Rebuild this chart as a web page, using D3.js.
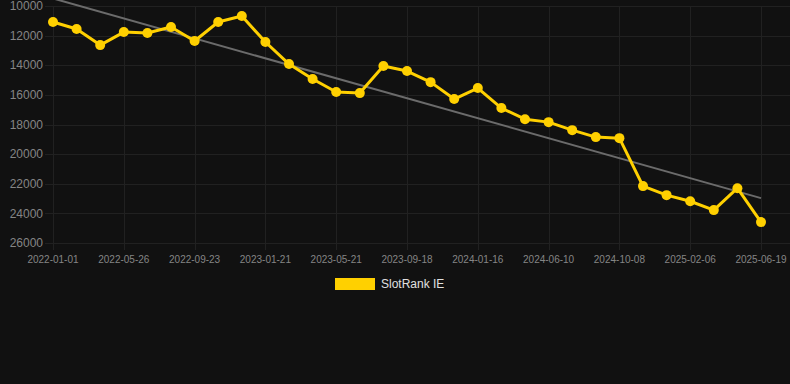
<!DOCTYPE html>
<html><head><meta charset="utf-8">
<script src="https://cdn.jsdelivr.net/npm/d3@7/dist/d3.min.js"></script>
<style>html,body{margin:0;padding:0;background:#111111;}svg{display:block;}</style>
</head><body>
<svg id="c" width="790" height="384"></svg>
<script>
const dates = ["2022-01-01","2022-02-18","2022-04-08","2022-05-26","2022-07-05","2022-08-14",
"2022-09-23","2022-11-02","2022-12-12","2023-01-21","2023-03-02","2023-04-11",
"2023-05-21","2023-06-30","2023-08-09","2023-09-18","2023-10-28","2023-12-07",
"2024-01-16","2024-03-03","2024-04-22","2024-06-10","2024-07-20","2024-08-29",
"2024-10-08","2024-11-17","2024-12-28","2025-02-06","2025-03-21","2025-05-05","2025-06-19"];
const ranks = [11080,11550,12640,11760,11820,11420,12360,11080,10680,12430,13920,14930,
15810,15880,14050,14390,15140,16280,15540,16890,17640,17840,18380,18850,18920,
22160,22770,23180,23780,22300,24590];
const trendDates = ["2022-01-01","2025-06-19"];
const trendValues = [9490, 22970];
const yTicks = [10000,12000,14000,16000,18000,20000,22000,24000,26000];
const seriesName = "SlotRank IE";

(function(){
const svg = d3.select("#c");
const W = 790, H = 384;
svg.append("rect").attr("width",W).attr("height",H).attr("fill","#111111");
const pL = 53, pR = 761, pT = 6, pB = 243;
const x = d3.scalePoint().domain(dates).range([pL, pR]);
const y = d3.scaleLinear().domain([10000, 26000]).range([pT, pB]);
const font = "Liberation Sans, Arial, Helvetica, sans-serif";
const grid = "#212121";

const gy = svg.append("g");
yTicks.forEach(t => {
  gy.append("line").attr("x1", 45).attr("x2", W).attr("y1", Math.round(y(t))+0.5).attr("y2", Math.round(y(t))+0.5)
    .attr("stroke", grid).attr("stroke-width", 1);
  gy.append("text").attr("x", 43).attr("y", y(t)).attr("dy","0.35em")
    .attr("text-anchor","end").attr("fill","#858585").attr("font-family",font).attr("font-size",12).text(d3.format("d")(t));
});
const shown = dates.filter((d,i) => i % 3 === 0);
shown.forEach(d => {
  const xx = Math.round(x(d)) + 0.5;
  svg.append("line").attr("x1", xx).attr("x2", xx).attr("y1", pT).attr("y2", pB + 7)
    .attr("stroke", grid).attr("stroke-width", 1);
  svg.append("text").attr("x", x(d)).attr("y", 263).attr("text-anchor","middle")
    .attr("fill","#858585").attr("font-family",font).attr("font-size",10).text(d);
});

const trendLine = d3.line().x((v,i)=>x(trendDates[i])).y(v=>y(v));
svg.append("path").datum(trendValues).attr("d", trendLine).attr("fill","none")
  .attr("stroke","#6b6b6b").attr("stroke-width",2);

const color = "#ffd000";
const line = d3.line().x((v,i)=>x(dates[i])).y(v=>y(v));
svg.append("path").datum(ranks).attr("d", line).attr("fill","none")
  .attr("stroke", color).attr("stroke-width", 3).attr("stroke-linejoin","round");
svg.append("g").selectAll("circle").data(ranks).join("circle")
  .attr("cx",(v,i)=>x(dates[i])).attr("cy",v=>y(v)).attr("r",5).attr("fill",color);

svg.append("rect").attr("x",335).attr("y",278).attr("width",40).attr("height",12).attr("fill",color);
svg.append("text").attr("x",381).attr("y",284).attr("dy","0.35em").attr("fill","#e0e0e0")
  .attr("font-family",font).attr("font-size",12).text(seriesName);
})();
</script>
</body></html>
